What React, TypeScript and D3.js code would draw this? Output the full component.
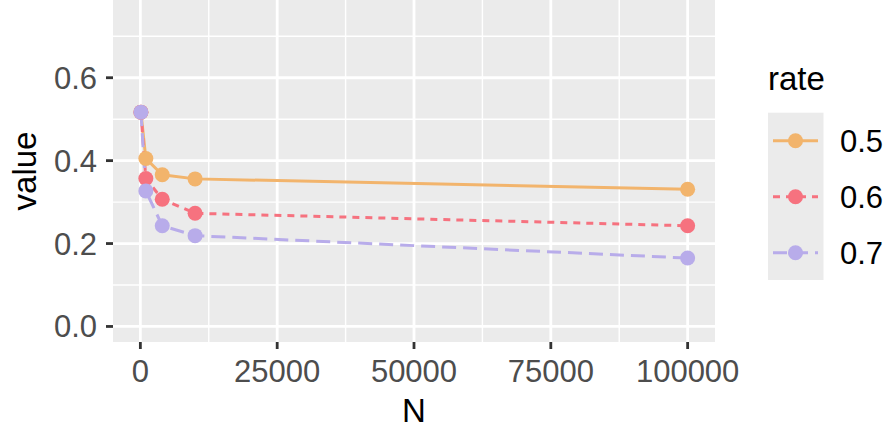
import React from "react";
import * as d3 from "d3";

const Ns = [100, 1000, 4000, 10000, 100000];
const rates = ["0.5", "0.6", "0.7"];
const values05 = [0.517, 0.405, 0.366, 0.356, 0.331];
const values06 = [0.517, 0.357, 0.307, 0.273, 0.243];
const values07 = [0.517, 0.327, 0.243, 0.219, 0.165];
const xTicks = [0, 25000, 50000, 75000, 100000];
const xMinor = [12500, 37500, 62500, 87500];
const yTicks = [0, 0.2, 0.4, 0.6];
const yMinor = [0.1, 0.3, 0.5, 0.7];

const colors = ["#F2B46C", "#F6727F", "#B8ACEA"];
const dashes = ["none", "7 6", "14 7"];

const W = 888, H = 428;
const P = { left: 113, right: 715, top: 0, bottom: 342 };
const FONT = "'Liberation Sans', Arial, Helvetica, sans-serif";

export default function App() {
  const x = d3.scaleLinear().domain([-5000, 105000]).range([P.left, P.right]);
  const y = d3.scaleLinear().domain([-0.0375, 0.7875]).range([P.bottom, P.top]);
  const series = [values05, values06, values07];
  const line = d3
    .line<[number, number]>()
    .x((d) => x(d[0]))
    .y((d) => y(d[1]));
  const fmtY = d3.format(".1f");

  const legendYs = [140.7, 196.7, 252.7];

  return (
    <svg
      width={W}
      height={H}
      style={{ position: "absolute", left: 0, top: 0 }}
      fontFamily={FONT}
    >
      <rect x={0} y={0} width={W} height={H} fill="white" />
      <rect
        x={P.left}
        y={P.top}
        width={P.right - P.left}
        height={P.bottom - P.top}
        fill="#EBEBEB"
      />
      {yMinor.map((v) => (
        <line key={"ym" + v} x1={P.left} x2={P.right} y1={y(v)} y2={y(v)} stroke="white" strokeWidth={1.4} />
      ))}
      {xMinor.map((v) => (
        <line key={"xm" + v} y1={P.top} y2={P.bottom} x1={x(v)} x2={x(v)} stroke="white" strokeWidth={1.4} />
      ))}
      {yTicks.map((v) => (
        <line key={"yM" + v} x1={P.left} x2={P.right} y1={y(v)} y2={y(v)} stroke="white" strokeWidth={2.8} />
      ))}
      {xTicks.map((v) => (
        <line key={"xM" + v} y1={P.top} y2={P.bottom} x1={x(v)} x2={x(v)} stroke="white" strokeWidth={2.8} />
      ))}

      {series.map((vals, i) => (
        <path
          key={"l" + i}
          d={line(Ns.map((n, j) => [n, vals[j]] as [number, number])) || ""}
          fill="none"
          stroke={colors[i]}
          strokeWidth={3}
          strokeDasharray={dashes[i]}
        />
      ))}
      {series.map((vals, i) =>
        Ns.map((n, j) => (
          <circle key={"p" + i + "-" + j} cx={x(n)} cy={y(vals[j])} r={7.5} fill={colors[i]} />
        ))
      )}

      {/* axes ticks */}
      {yTicks.map((v) => (
        <g key={"yt" + v}>
          <line x1={P.left - 7} x2={P.left} y1={y(v)} y2={y(v)} stroke="#333333" strokeWidth={2.8} />
          <text x={97} y={y(v) + 11} textAnchor="end" fontSize={31} fill="#4D4D4D">
            {fmtY(v)}
          </text>
        </g>
      ))}
      {xTicks.map((v) => (
        <g key={"xt" + v}>
          <line x1={x(v)} x2={x(v)} y1={P.bottom} y2={P.bottom + 7} stroke="#333333" strokeWidth={2.8} />
          <text x={x(v)} y={381.5} textAnchor="middle" fontSize={31} fill="#4D4D4D">
            {String(v)}
          </text>
        </g>
      ))}

      <text x={(P.left + P.right) / 2} y={421.5} textAnchor="middle" fontSize={33} fill="black">
        N
      </text>
      <text
        transform={`translate(36,${(P.top + P.bottom) / 2}) rotate(-90)`}
        textAnchor="middle"
        fontSize={33}
        fill="black"
      >
        value
      </text>

      {/* legend */}
      <text x={768} y={89.5} fontSize={33} fill="black">
        rate
      </text>
      <rect x={768} y={112.7} width={55.5} height={167.3} fill="#EBEBEB" />
      {rates.map((r, i) => (
        <g key={"lg" + r}>
          <line
            x1={773}
            x2={818}
            y1={legendYs[i]}
            y2={legendYs[i]}
            stroke={colors[i]}
            strokeWidth={3}
            strokeDasharray={dashes[i]}
          />
          <circle cx={795.5} cy={legendYs[i]} r={7.5} fill={colors[i]} />
          <text x={840} y={legendYs[i] + 11} fontSize={31} fill="black">
            {r}
          </text>
        </g>
      ))}
    </svg>
  );
}
